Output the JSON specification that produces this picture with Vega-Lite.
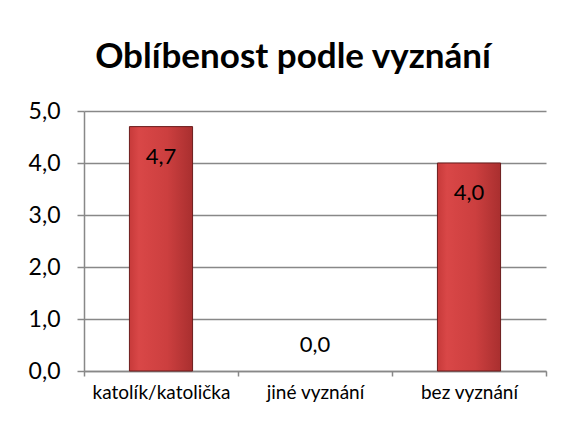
{
  "$schema": "https://vega.github.io/schema/vega-lite/v6.json",
  "autosize": {"type": "none"},
  "width": 462,
  "height": 260,
  "padding": {"left": 84, "top": 111, "right": 25, "bottom": 50},
  "background": "white",
  "title": {
    "text": "Oblíbenost podle vyznání",
    "font": "Lato",
    "fontSize": 35,
    "fontWeight": "bold",
    "color": "black",
    "anchor": "middle",
    "dx": -22,
    "offset": 25
  },
  "data": {
    "values": [
      {"kategorie": "katolík/katolička", "hodnota": 4.7},
      {"kategorie": "jiné vyznání", "hodnota": 0.0},
      {"kategorie": "bez vyznání", "hodnota": 4.0}
    ]
  },
  "config": {
    "view": {"stroke": null},
    "font": "Lato",
    "locale": {
      "number": {"decimal": ",", "thousands": " ", "grouping": [3], "currency": ["", " Kč"]}
    }
  },
  "encoding": {
    "x": {
      "field": "kategorie",
      "type": "nominal",
      "sort": null,
      "scale": {"domain": ["katolík/katolička", "jiné vyznání", "bez vyznání"], "paddingInner": 0, "paddingOuter": 0},
      "axis": {
        "title": null,
        "labelAngle": 0,
        "labelFont": "Lato",
        "labelFontSize": 19,
        "labelColor": "black",
        "labelPadding": 7,
        "tickBand": "extent",
        "tickSize": 5,
        "tickColor": "#888888",
        "domainColor": "#888888",
        "domainWidth": 1.5,
        "tickWidth": 1.5
      }
    },
    "y": {
      "field": "hodnota",
      "type": "quantitative",
      "scale": {"domain": [0, 5]},
      "axis": {
        "title": null,
        "values": [0, 1, 2, 3, 4, 5],
        "format": ".1f",
        "labelFont": "Lato",
        "labelFontSize": 23,
        "labelColor": "black",
        "labelPadding": 17,
        "tickSize": 7,
        "tickColor": "#888888",
        "domainColor": "#888888",
        "gridColor": "#888888",
        "domainWidth": 1.5,
        "gridWidth": 1.5,
        "tickWidth": 1.5
      }
    }
  },
  "layer": [
    {
      "transform": [{"filter": "datum.hodnota > 0"}],
      "mark": {
        "type": "bar",
        "width": {"band": 0.41},
        "color": {
          "gradient": "linear",
          "x1": 0, "y1": 0, "x2": 1, "y2": 0,
          "stops": [
            {"offset": 0, "color": "#c73a3a"},
            {"offset": 0.15, "color": "#d94747"},
            {"offset": 0.6, "color": "#cc3f3f"},
            {"offset": 1, "color": "#a92f2f"}
          ]
        },
        "stroke": "#6b1c1c",
        "strokeWidth": 1
      }
    },
    {
      "transform": [{"filter": "datum.hodnota > 0"}],
      "mark": {"type": "text", "dy": 30, "baseline": "middle", "fontSize": 22, "color": "black"},
      "encoding": {"text": {"field": "hodnota", "type": "quantitative", "format": ".1f"}}
    },
    {
      "transform": [{"filter": "datum.hodnota == 0"}],
      "mark": {"type": "text", "dy": -26, "baseline": "middle", "fontSize": 22, "color": "black"},
      "encoding": {"text": {"field": "hodnota", "type": "quantitative", "format": ".1f"}}
    }
  ]
}
